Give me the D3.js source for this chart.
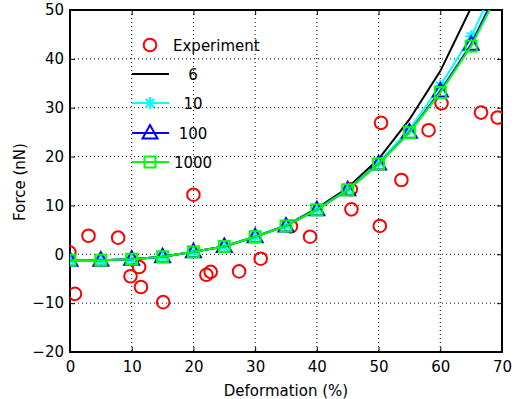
<!DOCTYPE html>
<html><head><meta charset="utf-8">
<script src="https://cdn.jsdelivr.net/npm/d3@7"></script>
<style>body{margin:0;background:#fff}svg{display:block}text{font-family:"DejaVu Sans",sans-serif;}</style>
</head><body>
<svg id="c" width="516" height="399"></svg>
<script>
const expX = [-0.1,0.8,3.0,7.8,9.8,11.2,11.5,15.1,20.0,22.1,22.8,27.4,30.9,35.8,38.9,45.5,45.6,50.2,50.4,53.7,58.1,60.2,66.6,69.3];
const expY = [0.4,-8.1,3.8,3.4,-4.5,-2.6,-6.7,-9.8,12.2,-4.2,-3.6,-3.5,-0.9,5.7,3.6,13.3,9.2,5.8,26.9,15.2,25.4,30.9,29.0,28.0];
const modelX = [0,5,10,15,20,25,30,35,40,45,50,55,60,65,70];
const y6    = [-1.2,-1.2,-1.0,-0.5,0.5,1.6,3.6,5.9,9.4,13.6,19.5,27.6,37.5,50.5,65];
const y10   = [-1.2,-1.2,-1.0,-0.5,0.5,1.6,3.6,5.9,9.2,13.3,18.8,25.6,34.5,44.6,58];
const y100  = [-1.2,-1.2,-1.0,-0.5,0.5,1.6,3.6,5.8,9.1,13.2,18.5,25.0,33.4,43.0,56];
const y1000 = [-1.2,-1.2,-1.0,-0.5,0.5,1.6,3.6,5.8,9.1,13.2,18.5,24.9,33.1,42.6,55];
const xTicks = [0,10,20,30,40,50,60,70];
const yTicks = [-20,-10,0,10,20,30,40,50];
const legendLabels = ["Experiment","6","10","100","1000"];

const FS = 15;
const svg = d3.select("#c");
const L=70,R=502,T=10,B=352;
const x = d3.scaleLinear().domain([0,70]).range([L,R]);
const y = d3.scaleLinear().domain([-20,50]).range([B,T]);

svg.append("defs").append("clipPath").attr("id","clip").append("rect")
  .attr("x",L).attr("y",T).attr("width",R-L).attr("height",B-T);

// grid
const g = svg.append("g");
g.selectAll(".gx").data(xTicks.slice(1,-1)).join("line")
  .attr("x1",d=>x(d)).attr("x2",d=>x(d)).attr("y1",T).attr("y2",B)
  .attr("stroke","#000").attr("stroke-width",1).attr("stroke-dasharray","1,3");
g.selectAll(".gy").data(yTicks.slice(1,-1)).join("line")
  .attr("y1",d=>y(d)).attr("y2",d=>y(d)).attr("x1",L).attr("x2",R)
  .attr("stroke","#000").attr("stroke-width",1).attr("stroke-dasharray","1,3");

// axes
const ax = d3.axisBottom(x).tickValues(xTicks).tickSize(-5).tickPadding(9).tickFormat(d3.format("d"));
const axT = d3.axisTop(x).tickValues(xTicks).tickSize(-5).tickFormat("");
const ay = d3.axisLeft(y).tickValues(yTicks).tickSize(-5).tickPadding(6).tickFormat(d3.format("d"));
const ayR = d3.axisRight(y).tickValues(yTicks).tickSize(-5).tickFormat("");
function style(s){s.select(".domain").remove();s.selectAll("line").attr("stroke","#000").attr("stroke-width",1);
  s.selectAll("text").attr("font-size",FS).attr("fill","#000").attr("font-family","DejaVu Sans, sans-serif");}
svg.append("g").attr("transform",`translate(0,${B})`).call(ax).call(style);
svg.append("g").attr("transform",`translate(0,${T})`).call(axT).call(style);
svg.append("g").attr("transform",`translate(${L},0)`).call(ay).call(style);
svg.append("g").attr("transform",`translate(${R},0)`).call(ayR).call(style);
svg.append("rect").attr("x",L).attr("y",T).attr("width",R-L).attr("height",B-T)
  .attr("fill","none").attr("stroke","#000").attr("stroke-width",2);

// labels
svg.append("text").attr("x",286).attr("y",396).attr("text-anchor","middle").attr("font-size",FS).text("Deformation (%)");
svg.append("text").attr("transform",`translate(25,182) rotate(-90)`).attr("text-anchor","middle").attr("font-size",FS).text("Force (nN)");

const plot = svg.append("g").attr("clip-path","url(#clip)");
// experiment
plot.selectAll(".e").data(expX.map((d,i)=>[d,expY[i]])).join("circle")
  .attr("cx",d=>x(d[0])).attr("cy",d=>y(d[1])).attr("r",6.3)
  .attr("fill","none").attr("stroke","#ff0000").attr("stroke-width",2);

const line = d3.line().x(d=>x(d[0])).y(d=>y(d[1]));
function series(vals,color){
  const pts = modelX.map((d,i)=>[d,vals[i]]);
  plot.append("path").datum(pts).attr("d",line).attr("fill","none").attr("stroke",color).attr("stroke-width",2);
  return pts.filter(p=>p[0]<=65);
}
function star(sel,cx,cy,color){
  const s=6;
  const gg=sel.append("g").attr("stroke",color).attr("stroke-width",2);
  gg.append("line").attr("x1",cx-s).attr("x2",cx+s).attr("y1",cy).attr("y2",cy);
  gg.append("line").attr("x1",cx).attr("x2",cx).attr("y1",cy-s).attr("y2",cy+s);
  gg.append("line").attr("x1",cx-s*0.7).attr("x2",cx+s*0.7).attr("y1",cy-s*0.7).attr("y2",cy+s*0.7);
  gg.append("line").attr("x1",cx-s*0.7).attr("x2",cx+s*0.7).attr("y1",cy+s*0.7).attr("y2",cy-s*0.7);
}
function tri(sel,cx,cy,color){
  sel.append("path").attr("d",`M${cx},${cy-8}L${cx+7.5},${cy+5.5}L${cx-7.5},${cy+5.5}Z`)
    .attr("fill","none").attr("stroke",color).attr("stroke-width",2);
}
function sq(sel,cx,cy,color){
  sel.append("rect").attr("x",cx-5.5).attr("y",cy-5.5).attr("width",11).attr("height",11)
    .attr("fill","none").attr("stroke",color).attr("stroke-width",2);
}
series(y6,"#000000");
const p10 = series(y10,"#00ffff");
p10.forEach(p=>star(plot,x(p[0]),y(p[1]),"#00ffff"));
const p100 = series(y100,"#0000ff");
p100.forEach(p=>tri(plot,x(p[0]),y(p[1]),"#0000ff"));
const p1000 = series(y1000,"#00ff00");
p1000.forEach(p=>sq(plot,x(p[0]),y(p[1]),"#00ff00"));

// legend
const lg = svg.append("g");
const rows=[45,74,103,133,162];
lg.append("circle").attr("cx",150).attr("cy",rows[0]).attr("r",6.3).attr("fill","none").attr("stroke","#ff0000").attr("stroke-width",2);
lg.append("text").attr("x",173).attr("y",rows[0]+5.5).attr("font-size",FS).text(legendLabels[0]);
const cols=["#000000","#00ffff","#0000ff","#00ff00"];
[1,2,3,4].forEach(i=>{
  lg.append("line").attr("x1",132).attr("x2",169).attr("y1",rows[i]).attr("y2",rows[i]).attr("stroke",cols[i-1]).attr("stroke-width",2);
  if(i===2) star(lg,150,rows[i],cols[1]);
  if(i===3) tri(lg,150,rows[i],cols[2]);
  if(i===4) sq(lg,150,rows[i],cols[3]);
  lg.append("text").attr("x",193).attr("y",rows[i]+5.5).attr("text-anchor","middle").attr("font-size",FS).text(legendLabels[i]);
});
</script>
</body></html>
